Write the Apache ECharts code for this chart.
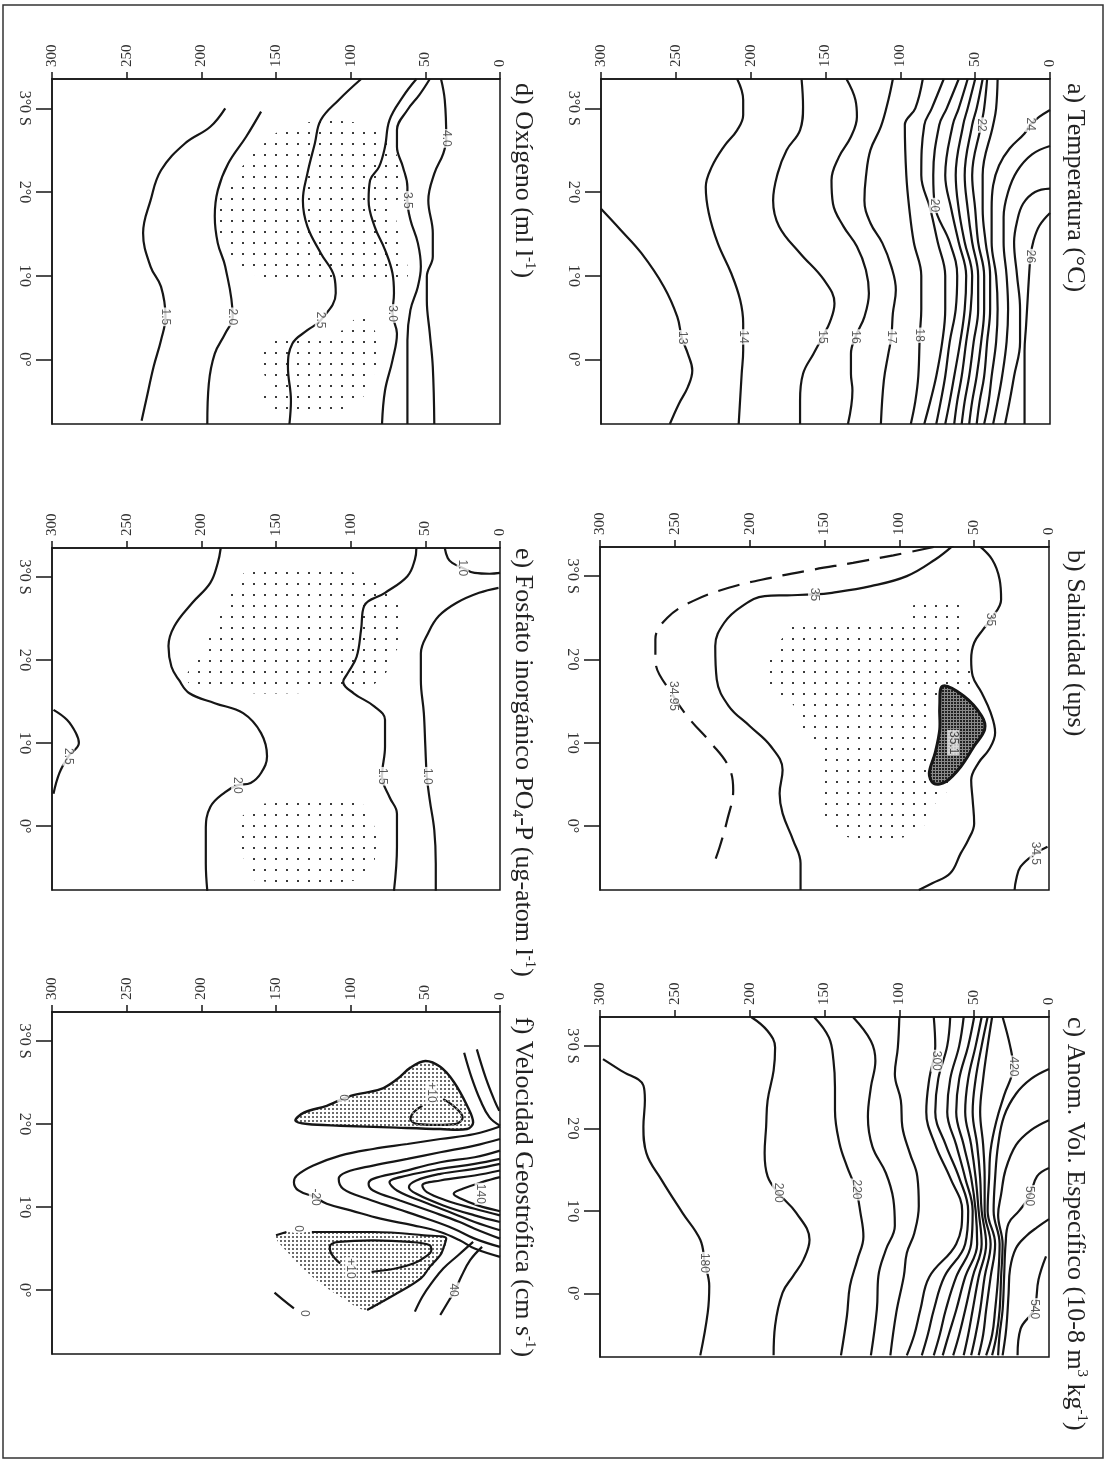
<!DOCTYPE html>
<html>
<head>
<meta charset="utf-8">
<script src="https://cdn.jsdelivr.net/npm/echarts@6/dist/echarts.min.js"></script>
<style>
html,body{margin:0;padding:0;background:#fff;}
#chart{width:1110px;height:1462px;}
</style>
</head>
<body>
<div id="chart"></div>
<script>
// depth (m) along x, latitude (deg S) along y; figure is turned a quarter turn
var depthTicks = [0, 50, 100, 150, 200, 250, 300];
var latTicks = [0, 1, 2, 3];
var latTickLabels = ['0°', '1°0', '2°0', '3°0 S'];

// a) Temperatura
var tempLines = [
  [[300,1.80],[287,1.55],[273,1.27],[258,0.87],[249,0.51],[246,0.26],[242,0.07],[239,-0.13],[242,-0.33],[248,-0.53],[254,-0.77]],
  [[209,3.35],[205,3.10],[205,2.92],[209,2.74],[218,2.54],[226,2.30],[230,2.06],[228,1.75],[222,1.39],[213,1.03],[207,0.71],[205,0.43],[205,0.27],[205,0.11],[206,-0.17],[208,-0.77]],
  [[166,3.35],[165,3.02],[167,2.74],[176,2.50],[182,2.22],[185,1.90],[181,1.59],[167,1.27],[151,0.95],[144,0.67],[147,0.45],[152,0.27],[158,0.07],[165,-0.17],[167,-0.49],[167,-0.77]],
  [[136,3.35],[130,3.10],[129,2.90],[133,2.66],[141,2.42],[146,2.14],[145,1.86],[138,1.59],[129,1.35],[123,1.07],[121,0.79],[124,0.51],[130,0.27],[133,0.07],[133,-0.17],[132,-0.37],[135,-0.77]],
  [[105,3.35],[108,3.10],[113,2.78],[120,2.50],[123,2.18],[124,1.90],[120,1.63],[112,1.39],[106,1.11],[103,0.83],[105,0.55],[106,0.27],[108,0.07],[111,-0.25],[113,-0.77]],
  [[85,3.35],[90,3.0],[97,2.8],[96,2.2],[94,1.8],[91,1.4],[86,1.0],[86,0.6],[87,0.29],[88,-0.2],[90,-0.5],[93,-0.77]],
  [[71,3.35],[79,3.0],[84,2.8],[86,2.2],[80,1.8],[75,1.4],[70,1.0],[70,0.6],[72,0.21],[76,-0.2],[80,-0.5],[84,-0.77]],
  [[61,3.35],[69,3.0],[74,2.8],[78,2.2],[77,1.84],[67,1.4],[62,1.0],[63,0.6],[67,0.21],[70,-0.2],[73,-0.5],[76,-0.77]],
  [[55,3.35],[61,3.0],[65,2.8],[70,2.2],[66,1.8],[61,1.4],[56,1.0],[57,0.6],[60,0.21],[64,-0.2],[67,-0.5],[70,-0.77]],
  [[50,3.35],[55,3.0],[58,2.8],[63,2.2],[61,1.8],[57,1.4],[52,1.0],[53,0.6],[56,0.21],[59,-0.2],[62,-0.5],[64,-0.77]],
  [[45,3.35],[49,3.0],[52,2.8],[57,2.2],[55,1.8],[52,1.4],[48,1.0],[48,0.6],[51,0.21],[54,-0.2],[57,-0.5],[59,-0.77]],
  [[42,3.35],[44,3.0],[46,2.8],[52,2.2],[50,1.8],[48,1.4],[44,1.0],[44,0.6],[46,0.21],[49,-0.2],[52,-0.5],[54,-0.77]],
  [[35,3.35],[36,3.0],[38,2.8],[45,2.2],[45,1.8],[43,1.4],[40,1.0],[40,0.6],[42,0.21],[44,-0.2],[47,-0.5],[49,-0.77]],
  [[0,2.98],[7,2.9],[13,2.81],[17,2.70],[27,2.52],[34,2.32],[38,2.08],[39,1.8],[39,1.4],[36,1.0],[35,0.6],[36,0.21],[39,-0.2],[41,-0.5],[44,-0.77]],
  [[0,2.55],[12,2.45],[22,2.25],[28,2.0],[31,1.7],[31,1.4],[29,1.0],[28,0.6],[29,0.21],[32,-0.2],[35,-0.5],[38,-0.77]],
  [[0,2.04],[10,2.0],[18,1.86],[22,1.65],[24,1.4],[22,1.0],[20,0.6],[20,0.21],[24,-0.2],[27,-0.5],[30,-0.77]],
  [[0,1.75],[7,1.6],[11,1.42],[13,1.23],[14,1.0],[15,0.7],[16,0.4],[17,0.1],[17,-0.3],[17,-0.77]]
];
var tempLabels = [[246,0.26,'13'],[205,0.27,'14'],[152,0.27,'15'],[130,0.27,'16'],[106,0.27,'17'],[87,0.29,'18'],
  [77,1.84,'20'],[46,2.80,'22'],[13,2.81,'24'],[13,1.23,'26']];

// b) Salinidad
var salLines = [
  [[47,3.37],[38,3.20],[33,2.96],[32,2.72],[39,2.48],[44,2.36],[50,2.20],[52,2.00],[51,1.80],[45,1.60],[39,1.36],[36,1.12],[40,0.92],[47,0.76],[52,0.55],[51,0.31],[50,0.03],[54,-0.17],[59,-0.33],[66,-0.57],[78,-0.69],[87,-0.77]],
  [[64,3.37],[76,3.20],[95,3.00],[119,2.88],[145,2.80],[157,2.78],[175,2.77],[190,2.76],[205,2.64],[217,2.44],[223,2.16],[222,1.76],[214,1.44],[200,1.20],[186,0.96],[178,0.67],[180,0.39],[178,0.15],[171,-0.17],[166,-0.45],[166,-0.77]],
  [[1,-0.25],[9,-0.33],[19,-0.49],[22,-0.65],[23,-0.77]]
];
var salDashed = [[77,3.35],[104,3.25],[131,3.16],[157,3.08],[186,2.98],[214,2.86],[238,2.70],[255,2.50],[263,2.24],[263,2.00],[251,1.56],[240,1.28],[226,1.00],[214,0.71],[211,0.43],[215,0.07],[220,-0.25],[225,-0.51]];
var salCore = [[71,1.68],[57,1.56],[45,1.32],[43,1.16],[50,0.96],[59,0.71],[69,0.53],[77,0.51],[80,0.63],[76,0.88],[73,1.16],[73,1.44]];
var salDots = [[88,2.72],[57,2.72],[55,2.44],[57,2.3],[56,2.04],[51,1.78],[53,1.62],[76,1.54],[78,1.4],[77,1.16],[78,0.9],[69,0.63],[64,0.51],[76,0.27],[78,0.13],[93,-0.12],[138,-0.12],[152,0.13],[155,0.4],[155,0.9],[166,1.16],[169,1.4],[176,1.54],[188,1.66],[186,2.04],[176,2.3],[166,2.46],[100,2.46],[92,2.6]];
var salLabels = [[39,2.48,'35'],[157,2.78,'35'],[251,1.56,'34.95'],[9,-0.33,'34.5']];
var salCoreLabel = [[64,1.0,'35.1']];

// c) Anom. Vol. Especifico
var avLines = [
  [[298,2.84],[286,2.70],[271,2.52],[270,2.34],[271,2.02],[269,1.70],[259,1.38],[245,0.98],[233,0.65],[230,0.37],[227,0.09],[228,-0.23],[233,-0.75]],
  [[199,3.35],[188,3.18],[183,2.98],[184,2.70],[188,2.34],[189,2.02],[190,1.70],[188,1.42],[181,1.22],[169,0.98],[160,0.65],[164,0.41],[171,0.21],[178,0.01],[183,-0.39],[184,-0.75]],
  [[157,3.35],[147,3.10],[144,2.82],[143,2.50],[143,2.22],[140,1.82],[135,1.54],[129,1.26],[126,0.98],[124,0.69],[128,0.41],[133,0.09],[135,-0.27],[139,-0.75]],
  [[131,3.35],[119,3.06],[116,2.82],[119,2.50],[121,2.14],[118,1.78],[109,1.46],[104,1.14],[103,0.82],[109,0.53],[114,0.21],[115,-0.19],[119,-0.75]],
  [[100,3.35],[101,2.98],[103,2.66],[99,2.34],[98,2.02],[93,1.70],[88,1.42],[87,1.06],[90,0.73],[95,0.49],[97,0.21],[102,-0.23],[106,-0.75]],
  [[77,3.35],[76,3.0],[80,2.6],[82,2.2],[76,1.8],[66,1.4],[58,1.0],[62,0.6],[80,0.2],[86,-0.2],[90,-0.5],[95,-0.75]],
  [[66,3.35],[68,3.0],[74,2.6],[76,2.2],[69,1.8],[60,1.4],[54,1.0],[56,0.6],[70,0.2],[77,-0.2],[81,-0.5],[85,-0.75]],
  [[57,3.35],[60,3.0],[66,2.6],[68,2.2],[62,1.8],[56,1.4],[51,1.0],[52,0.6],[62,0.2],[69,-0.2],[73,-0.5],[77,-0.75]],
  [[50,3.35],[54,3.0],[60,2.6],[62,2.2],[57,1.8],[52,1.4],[49,1.0],[48,0.6],[56,0.2],[62,-0.2],[67,-0.5],[71,-0.75]],
  [[45,3.35],[49,3.0],[54,2.6],[56,2.2],[52,1.8],[49,1.4],[47,1.0],[45,0.6],[51,0.2],[56,-0.2],[60,-0.5],[64,-0.75]],
  [[41,3.35],[45,3.0],[49,2.6],[51,2.2],[48,1.8],[46,1.4],[45,1.0],[42,0.6],[47,0.2],[51,-0.2],[54,-0.5],[57,-0.75]],
  [[38,3.35],[41,3.0],[44,2.6],[46,2.2],[44,1.8],[43,1.4],[43,1.0],[39,0.6],[43,0.2],[46,-0.2],[49,-0.5],[52,-0.75]],
  [[31,3.35],[26,3.0],[24,2.75],[30,2.4],[35,2.1],[39,1.74],[40,1.4],[41,1.0],[36,0.6],[39,0.2],[42,-0.2],[44,-0.5],[47,-0.75]],
  [[0,2.72],[12,2.6],[22,2.42],[30,2.15],[34,1.8],[36,1.4],[37,1.0],[33,0.6],[34,0.2],[36,-0.2],[38,-0.5],[42,-0.75]],
  [[0,2.10],[12,1.98],[22,1.8],[29,1.5],[32,1.2],[34,0.95],[31,0.6],[32,0.2],[33,-0.2],[35,-0.5],[38,-0.75]],
  [[0,1.52],[8,1.42],[13,1.18],[20,1.0],[27,0.85],[29,0.6],[30,0.2],[31,-0.2],[33,-0.5],[34,-0.75]],
  [[0,0.90],[8,0.8],[15,0.7],[22,0.55],[26,0.3],[27,0],[28,-0.3],[29,-0.5],[31,-0.75]],
  [[2,0.45],[7,0.17],[10,-0.19],[19,-0.43],[21,-0.75]]
];
var avLabels = [[230,0.37,'180'],[181,1.22,'200'],[129,1.26,'220'],[75,2.82,'300'],[24,2.75,'420'],[13,1.18,'500'],[10,-0.19,'540']];

// d) Oxigeno
var oxLines = [
  [[39.5,3.35],[37,3.10],[36,2.64],[38,2.46],[44,2.22],[48,1.90],[45,1.51],[45,1.23],[49,0.99],[49,0.71],[47,0.31],[45,-0.09],[44,-0.77]],
  [[47,3.35],[54,3.16],[62,2.98],[69,2.74],[69,2.54],[65,2.30],[62,2.06],[62,1.90],[60,1.67],[55,1.39],[53,1.11],[55,0.87],[60,0.59],[62,0.23],[62,-0.29],[62,-0.77]],
  [[56,3.35],[65,3.14],[74,2.86],[77,2.54],[81,2.30],[87,2.14],[88,1.90],[84,1.59],[77,1.31],[72,1.03],[71,0.79],[72,0.55],[69,0.31],[72,-0.01],[77,-0.37],[79,-0.77]],
  [[93,3.35],[108,3.10],[120,2.86],[124,2.58],[129,2.22],[132,1.90],[129,1.59],[120,1.27],[111,0.99],[110,0.79],[120,0.47],[129,0.35],[139,0.19],[142,-0.09],[140,-0.49],[141,-0.77]],
  [[160,2.96],[170,2.66],[182,2.34],[189,2.02],[191,1.71],[189,1.39],[184,1.11],[179,0.51],[184,0.31],[191,0.07],[195,-0.29],[196,-0.77]],
  [[184,3.0],[194,2.78],[211,2.58],[227,2.26],[234,1.90],[239,1.51],[234,1.11],[227,0.87],[224,0.51],[227,0.23],[232,-0.09],[237,-0.49],[240,-0.73]]
];
var oxDotsA = [[139,2.80],[88,2.80],[71,2.51],[66,2.12],[70,1.75],[65,1.35],[64,0.96],[152,0.96],[172,1.08],[184,1.35],[191,1.75],[180,2.12],[162,2.51]];
var oxDotsB = [[96,0.50],[86,0.50],[84,0.35],[80,0.22],[82,-0.03],[87,-0.29],[96,-0.53],[120,-0.66],[134,-0.66],[158,-0.53],[156,-0.29],[160,-0.03],[153,0.22],[105,0.35]];
var oxLabels = [[36,2.64,'4.0'],[62,1.90,'3.5'],[72,0.55,'3.0'],[120,0.47,'2.5'],[179,0.51,'2.0'],[224,0.51,'1.5']];

// e) Fosfato
var phLines = [
  [[37,3.35],[35,3.23],[32,3.17],[25,3.11],[17,3.05],[7,3.04],[0,3.05]],
  [[1,2.87],[14,2.81],[29,2.69],[41,2.53],[48,2.33],[53,2.08],[53,1.76],[51,1.36],[50,0.96],[49,0.60],[47,0.31],[44,-0.05],[43,-0.45],[43,-0.78]],
  [[56,3.35],[57,3.21],[62,3.01],[77,2.81],[91,2.65],[93,2.37],[96,2.04],[102,1.84],[105,1.74],[98,1.60],[84,1.44],[77,1.28],[77,0.96],[79,0.60],[74,0.35],[69,0.15],[69,-0.25],[71,-0.78]],
  [[187,3.35],[189,3.17],[194,2.93],[206,2.69],[218,2.41],[222,2.17],[220,1.92],[215,1.76],[208,1.60],[191,1.48],[172,1.36],[160,1.12],[156,0.84],[160,0.64],[167,0.52],[176,0.49],[184,0.41],[194,0.23],[197,-0.05],[197,-0.45],[196,-0.78]],
  [[299,1.40],[290,1.28],[284,1.12],[282,1.00],[289,0.84],[295,0.64],[299,0.39]]
];
var phDotsA = [[166,3.09],[108,3.09],[84,2.95],[72,2.81],[64,2.55],[64,2.29],[72,2.04],[79,1.78],[98,1.63],[199,1.63],[210,1.78],[202,2.04],[195,2.29],[188,2.55],[181,2.81],[177,2.95]];
var phDotsB = [[159,0.27],[93,0.27],[88,0.13],[84,-0.01],[83,-0.25],[86,-0.51],[98,-0.66],[163,-0.66],[168,-0.51],[175,-0.25],[177,-0.01],[172,0.13]];
var phLabels = [[25,3.11,'1.0'],[49,0.60,'1.0'],[79,0.60,'1.5'],[176,0.49,'2.0'],[289,0.84,'2.5']];

// f) Velocidad geostrofica
var velLines = [
  [[24,2.86],[19,2.56],[13,2.28],[7,2.08],[0,1.98]],
  [[15.5,2.90],[9.6,2.56],[3.6,2.28],[0.5,2.16]],
  [[0,1.97],[17,1.88],[40,1.82],[62,1.76],[85,1.70],[107,1.62],[125,1.50],[136,1.38],[138,1.30],[135,1.20],[124,1.12],[116,1.04],[100,0.96],[80,0.86],[58,0.78],[40,0.70],[27,0.60],[17,0.50],[0,0.40]],
  [[0,1.82],[17,1.74],[40,1.66],[62,1.58],[85,1.50],[103,1.42],[108,1.34],[105,1.22],[89,1.10],[69,0.98],[49,0.86],[31,0.74],[17,0.62],[0,0.52]],
  [[0,1.68],[17,1.60],[40,1.54],[67,1.42],[85,1.34],[88,1.28],[85,1.20],[67,1.08],[45,0.94],[27,0.82],[17,0.74],[0,0.62]],
  [[0,1.58],[17,1.52],[40,1.46],[62,1.38],[74,1.30],[69,1.20],[51,1.06],[31,0.92],[17,0.82],[0,0.72]],
  [[0,1.52],[17,1.46],[40,1.40],[56,1.32],[61,1.24],[56,1.16],[38,1.02],[17,0.90],[0,0.82]],
  [[0,1.44],[17,1.38],[40,1.32],[52,1.26],[49,1.18],[36,1.08],[17,0.98],[0,0.90]],
  [[0,1.36],[12,1.30],[25,1.22],[31,1.16],[26,1.10],[15,1.02],[0,0.95]],
  [[12,0.52],[20,0.36],[26,0.16],[30,0.0],[34,-0.12],[38,-0.24],[40,-0.30]],
  [[18,0.58],[28,0.42],[38,0.26],[46,0.08],[52,-0.08],[57,-0.26]],
  [[151,-0.03],[145,-0.12],[138,-0.22]],
  [[150,0.66],[143,0.70]]
];
var velZeroUp = [[50,2.76],[40,2.69],[31,2.51],[22,2.22],[18,2.02],[22,1.94],[40,1.94],[74,1.96],[107,1.98],[129,2.0],[137,2.04],[131,2.14],[116,2.22],[100,2.34],[80,2.42],[69,2.54],[60,2.68]];
var velPlusUp = [[38,2.30],[30,2.20],[25,2.08],[30,2.0],[42,1.99],[55,2.0],[60,2.06],[58,2.14],[52,2.22]];
var velZeroLow = [[126,0.70],[100,0.70],[85,0.70],[51,0.66],[36,0.62],[38,0.50],[40,0.42],[47,0.28],[53,0.14],[71,-0.06],[89,-0.24]];
var velShadeLow = [[150,0.66],[126,0.70],[85,0.70],[51,0.66],[36,0.62],[40,0.42],[53,0.14],[71,-0.06],[89,-0.24],[105,-0.1],[125,0.15],[142,0.45]];
var velPlusLow = [[107,0.32],[113,0.44],[114,0.52],[108,0.58],[85,0.60],[60,0.58],[47,0.54],[46,0.48],[50,0.40],[58,0.32],[70,0.26],[86,0.22]];
var velLabels = [[105,2.32,'0'],[46,2.38,'+10'],[124,1.12,'-20'],[13,1.16,'140'],[135,0.74,'0'],[100,0.26,'+10'],[31,0.0,'40'],[131,-0.28,'0']];

var titles = [
  {x:1075, y:83, text:'a) Temperatura (°C)'},
  {x:1075, y:550, text:'b) Salinidad (ups)'},
  {x:1075, y:1017, text:'c) Anom. Vol. Específico (10-8 m{sup|3} kg{sup|-1})'},
  {x:523, y:83, text:'d) Oxígeno (ml l{sup|-1})'},
  {x:523, y:548, text:'e) Fosfato inorgánico PO{sub|4}-P (ug-atom l{sup|-1})'},
  {x:523, y:1017, text:'f) Velocidad Geostrófica (cm s{sup|-1})'}
];

var chart = echarts.init(document.getElementById('chart'));

function dots(size, dot, color, bg){
  var c = document.createElement('canvas');
  c.width = size; c.height = size;
  var g = c.getContext('2d');
  if (bg) { g.fillStyle = bg; g.fillRect(0, 0, size, size); }
  g.fillStyle = color;
  g.fillRect(0, 0, dot, dot);
  return {image: c, repeat: 'repeat'};
}
var sparseDots = dots(11, 2, '#3a3a3a');
var denseDots = dots(4, 2, '#6a6a6a');
var darkDots = dots(3, 2, '#222', '#8a8a8a');

var ink = '#161616';
var grids = [
  {left:601, top:79, width:449, height:345},
  {left:600, top:547, width:449, height:343},
  {left:600, top:1017, width:449, height:340},
  {left:52, top:79, width:448, height:345},
  {left:52, top:548, width:448, height:342},
  {left:52, top:1012, width:448, height:342}
];
grids.forEach(function(g){ g.show = true; g.borderColor = ink; g.borderWidth = 1.5; g.backgroundColor = 'transparent'; });

var xAxes = [], yAxes = [], series = [];
grids.forEach(function(g, i){
  xAxes.push({gridIndex:i, type:'value', min:0, max:300, interval:50, inverse:true, position:'top',
    axisLine:{onZero:false, lineStyle:{color:ink, width:1.5}},
    axisTick:{length:7, lineStyle:{color:ink, width:1.5}},
    axisLabel:{rotate:-90, margin:12, fontSize:15, fontFamily:'Liberation Serif', color:'#333'},
    splitLine:{show:false}});
  yAxes.push({gridIndex:i, type:'value', min:-0.77, max:3.35, position:'left',
    axisLine:{onZero:false, lineStyle:{color:ink, width:1.5}},
    axisTick:{customValues:latTicks, length:16, lineStyle:{color:ink, width:1.5}},
    axisLabel:{customValues:latTicks, rotate:-90, margin:20, fontSize:16, fontFamily:'Liberation Serif', color:'#333',
      formatter:function(v){ return latTickLabels[Math.round(v)]; }},
    splitLine:{show:false}});
});

function addLines(i, lines, dashed){
  lines.forEach(function(pts){
    series.push({type:'line', xAxisIndex:i, yAxisIndex:i, data:pts, smooth:0.4, symbol:'none', silent:true, z:3,
      lineStyle:{color:ink, width:2.2, type: dashed ? [22, 11] : 'solid'}});
  });
}
function addPatch(i, poly, fill, stroke, width){
  series.push({type:'custom', xAxisIndex:i, yAxisIndex:i, data:[poly[0]], silent:true, z: stroke ? 4 : 1,
    renderItem:function(params, api){
      var pts = poly.map(function(p){ return api.coord(p); });
      return {type:'polygon', shape:{points:pts, smooth:0.35},
        style:{fill:fill, stroke:stroke || null, lineWidth:width || 0}};
    }});
}
function addLabels(i, labs, color, bg){
  series.push({type:'scatter', xAxisIndex:i, yAxisIndex:i, symbolSize:1, silent:true, z:6,
    itemStyle:{color:'rgba(0,0,0,0)'},
    data:labs.map(function(l){ return {value:[l[0], l[1]], name:l[2]}; }),
    label:{show:true, position:'inside', rotate:-90, formatter:'{b}', fontSize:12,
      fontFamily:'Liberation Sans', color:color || '#333', backgroundColor:bg || '#fff', padding:[0, 1]}});
}

// a
addLines(0, tempLines);
addLabels(0, tempLabels);
// b
addPatch(1, salDots, sparseDots);
addLines(1, salLines);
addLines(1, [salDashed], true);
addPatch(1, salCore, darkDots, ink, 3);
addLabels(1, salLabels);
addLabels(1, salCoreLabel, '#222', '#eee');
// c
addLines(2, avLines);
addLabels(2, avLabels);
// d
addPatch(3, oxDotsA, sparseDots);
addPatch(3, oxDotsB, sparseDots);
addLines(3, oxLines);
addLabels(3, oxLabels);
// e
addPatch(4, phDotsA, sparseDots);
addPatch(4, phDotsB, sparseDots);
addLines(4, phLines);
addLabels(4, phLabels);
// f
addPatch(5, velZeroUp, denseDots, ink, 2.4);
addPatch(5, velShadeLow, denseDots);
addLines(5, velLines);
addLines(5, [velPlusUp, velZeroLow, velPlusLow]);
addLabels(5, velLabels);

var graphics = [{type:'rect', shape:{x:3, y:5, width:1100, height:1453}, style:{fill:null, stroke:'#333', lineWidth:1.5}, silent:true}];
titles.forEach(function(t){
  graphics.push({type:'text', x:t.x, y:t.y, rotation:-Math.PI/2, silent:true,
    style:{text:t.text, align:'left', verticalAlign:'middle', font:'26px "Liberation Serif"', fill:'#222', lineHeight:28,
      rich:{sup:{fontSize:15, fontFamily:'Liberation Serif', verticalAlign:'top', lineHeight:28, fill:'#222'},
            sub:{fontSize:15, fontFamily:'Liberation Serif', verticalAlign:'bottom', lineHeight:28, fill:'#222'}}}});
});

var option = {
  animation:false,
  backgroundColor:'#fff',
  grid:grids,
  xAxis:xAxes,
  yAxis:yAxes,
  series:series,
  graphic:graphics
};
chart.setOption(option);
</script>
</body>
</html>
